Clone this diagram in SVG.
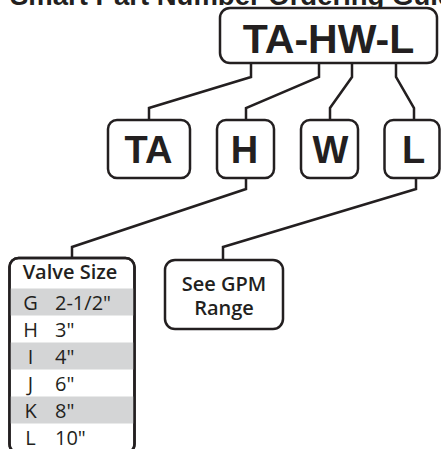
<svg xmlns="http://www.w3.org/2000/svg" width="441" height="449" viewBox="0 0 441 449">
<style>
.box{fill:#fff;stroke:#231f20;stroke-width:2.5}
.big{font-family:"Liberation Sans",Arial,sans-serif;font-weight:bold;fill:#231f20;text-anchor:middle}
.txt{font-family:"Open Sans","Noto Sans",sans-serif;fill:#231f20;font-size:20px}
.hd{font-weight:600;text-anchor:middle}
.band{fill:#d4d5d6}
.conn{fill:none;stroke:#231f20;stroke-width:2.5;stroke-linejoin:miter}
</style>
<defs>
<clipPath id="vclip"><rect x="9.5" y="258" width="125" height="195" rx="9"/></clipPath>
</defs>
<rect width="441" height="449" fill="#fff"/>
<g id="title">
<text class="big" x="10" y="5" font-size="27.5" style="text-anchor:start">Smart Part Number Ordering Guide</text>
</g>
<g id="connectors">
<path class="conn" d="M251,63 V77 L149,108 V120"/>
<path class="conn" d="M319,63 V77 L246,108 V120"/>
<path class="conn" d="M352,63 V77 L330,108 V120"/>
<path class="conn" d="M396,63 V77 L414,108 V120"/>
<path class="conn" d="M246,178 V189 L72,247 V258"/>
<path class="conn" d="M416,178 V189 L223,247 V260"/>
</g>
<g id="part-number">
<rect class="box" x="220" y="8" width="217" height="55" rx="10"/>
<text class="big" x="328.5" y="53" font-size="41">TA-HW-L</text>
</g>
<g id="node-TA">
<rect class="box" x="108" y="120" width="82" height="58" rx="9"/>
<text class="big" x="148.5" y="163" font-size="38">TA</text>
</g>
<g id="node-H">
<rect class="box" x="217" y="120" width="57" height="58" rx="9"/>
<text class="big" x="244.5" y="163" font-size="38">H</text>
</g>
<g id="node-W">
<rect class="box" x="301" y="120" width="57" height="58" rx="9"/>
<text class="big" x="330.5" y="163" font-size="38">W</text>
</g>
<g id="node-L">
<rect class="box" x="384.5" y="120" width="55" height="58" rx="9"/>
<text class="big" x="413.5" y="163" font-size="38">L</text>
</g>
<g id="valve-size">
<rect class="box" x="9.5" y="258" width="125" height="195" rx="9"/>
<g clip-path="url(#vclip)">
<rect class="band" x="9" y="288.5" width="126" height="27"/>
<rect class="band" x="9" y="342.5" width="126" height="27"/>
<rect class="band" x="9" y="396.5" width="126" height="27"/>
</g>
<rect x="9.5" y="258" width="125" height="195" rx="9" fill="none" stroke="#231f20" stroke-width="2.5"/>
<text class="txt hd" x="70" y="279">Valve Size</text>
<g class="txt">
<text x="30.5" y="310" text-anchor="middle">G</text><text x="55" y="310">2-1/2"</text>
<text x="30.5" y="337" text-anchor="middle">H</text><text x="55" y="337">3"</text>
<text x="30.5" y="364" text-anchor="middle">I</text><text x="55" y="364">4"</text>
<text x="30.5" y="391" text-anchor="middle">J</text><text x="55" y="391">6"</text>
<text x="30.5" y="418" text-anchor="middle">K</text><text x="55" y="418">8"</text>
<text x="30.5" y="445" text-anchor="middle">L</text><text x="55" y="445">10"</text>
</g>
</g>
<g id="gpm-range">
<rect class="box" x="165" y="260" width="118" height="69" rx="10"/>
<text class="txt hd" x="224" y="291">See GPM</text>
<text class="txt hd" x="224" y="315">Range</text>
</g>
</svg>
